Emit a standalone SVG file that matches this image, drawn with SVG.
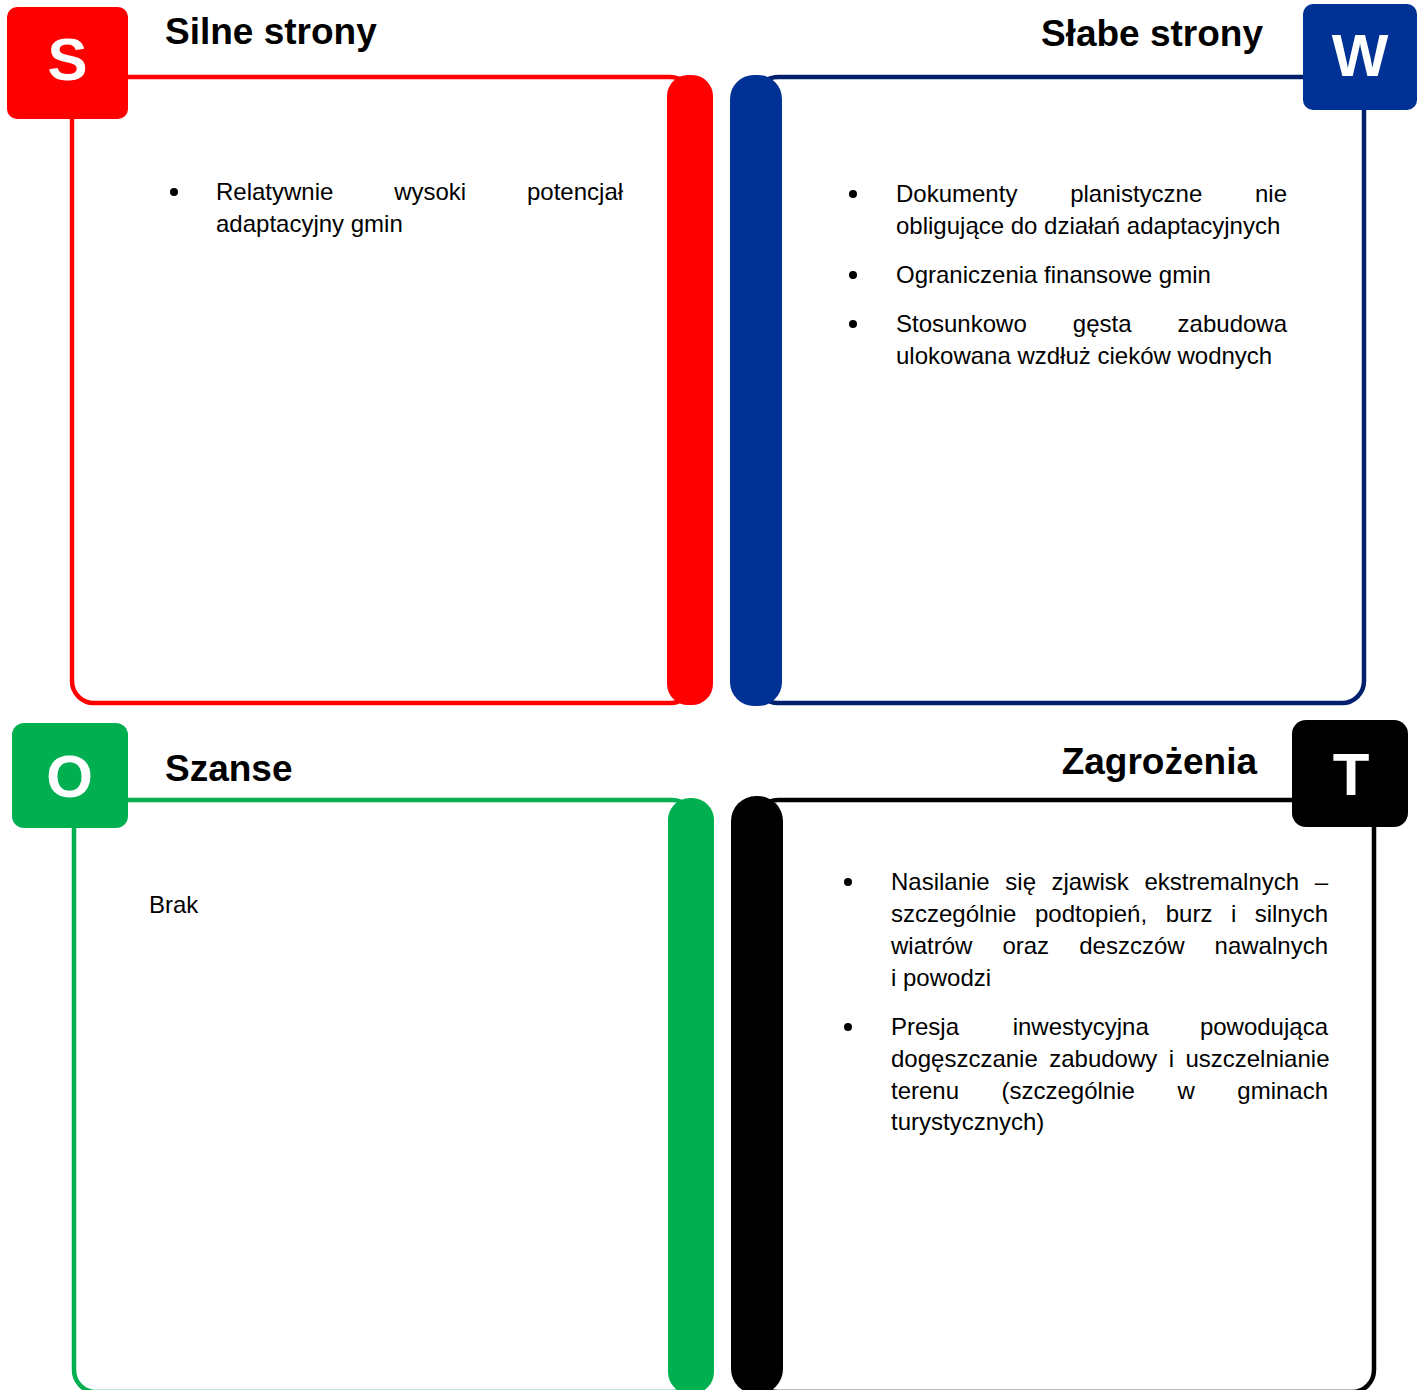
<svg xmlns="http://www.w3.org/2000/svg" width="1426" height="1390" viewBox="0 0 1426 1390">
<style>
.t{font-family:"Liberation Sans",Arial,sans-serif;font-size:24px;fill:#000}
.h{font-family:"Liberation Sans",Arial,sans-serif;font-size:37px;font-weight:bold;fill:#000}
.l{font-family:"Liberation Sans",Arial,sans-serif;font-size:60px;font-weight:bold;fill:#fff;text-anchor:middle}
.o{fill:none;stroke-width:4.5}
</style>
<rect width="1426" height="1390" fill="#fff"/>
<g id="strengths">
<rect class="o" x="72" y="77" width="620" height="626" rx="22" stroke="#FF0000"/>
<rect x="667" y="75" width="46" height="630" rx="21" fill="#FF0000"/>
<rect x="7" y="7" width="121" height="112" rx="10" fill="#FF0000"/>
<text class="l" x="67.5" y="80">S</text>
<text class="h" x="165" y="44">Silne strony</text>
<circle cx="174" cy="192" r="4" fill="#000"/>
<text class="t" y="200"><tspan x="216">Relatywnie</tspan><tspan x="394.2">wysoki</tspan><tspan x="527">potencjał</tspan></text>
<text class="t" x="216" y="232">adaptacyjny gmin</text>
</g>
<g id="weaknesses">
<rect class="o" x="756" y="77" width="608" height="626" rx="22" stroke="#00206E"/>
<rect x="730" y="75" width="52" height="631" rx="24" fill="#003194"/>
<rect x="1303" y="4" width="114" height="106" rx="10" fill="#003194"/>
<text class="l" x="1360" y="76">W</text>
<text class="h" x="1263" y="46" text-anchor="end">Słabe strony</text>
<circle cx="853" cy="194" r="4" fill="#000"/>
<text class="t" y="202"><tspan x="896">Dokumenty</tspan><tspan x="1070.2">planistyczne</tspan><tspan x="1255">nie</tspan></text>
<text class="t" x="896" y="234">obligujące do działań adaptacyjnych</text>
<circle cx="853" cy="275" r="4" fill="#000"/>
<text class="t" x="896" y="283">Ograniczenia finansowe gmin</text>
<circle cx="853" cy="324" r="4" fill="#000"/>
<text class="t" y="332"><tspan x="896">Stosunkowo</tspan><tspan x="1072.8">gęsta</tspan><tspan x="1177.6">zabudowa</tspan></text>
<text class="t" x="896" y="364">ulokowana wzdłuż cieków wodnych</text>
</g>
<g id="opportunities">
<rect class="o" x="74" y="800" width="620" height="592" rx="22" stroke="#00B050"/>
<rect x="668" y="798" width="46" height="596" rx="22" fill="#00B050"/>
<rect x="12" y="723" width="116" height="105" rx="12" fill="#00B050"/>
<text class="l" x="69.5" y="797">O</text>
<text class="h" x="165" y="781">Szanse</text>
<text class="t" x="149" y="913">Brak</text>
</g>
<g id="threats">
<rect class="o" x="756" y="800" width="618" height="592" rx="22" stroke="#000"/>
<rect x="731" y="796" width="52" height="598" rx="25" fill="#000"/>
<rect x="1292" y="720" width="116" height="107" rx="14" fill="#000"/>
<text class="l" x="1351" y="795">T</text>
<text class="h" x="1257" y="774" text-anchor="end">Zagrożenia</text>
<circle cx="848" cy="882" r="4" fill="#000"/>
<text class="t" y="890"><tspan x="891">Nasilanie</tspan><tspan x="1005.3">się</tspan><tspan x="1051.5">zjawisk</tspan><tspan x="1144.4">ekstremalnych</tspan><tspan x="1314.7">–</tspan></text>
<text class="t" y="922"><tspan x="891">szczególnie</tspan><tspan x="1035">podtopień,</tspan><tspan x="1165.7">burz</tspan><tspan x="1230.9">i</tspan><tspan x="1254.7">silnych</tspan></text>
<text class="t" y="954"><tspan x="891">wiatrów</tspan><tspan x="1002.4">oraz</tspan><tspan x="1079.2">deszczów</tspan><tspan x="1214.6">nawalnych</tspan></text>
<text class="t" x="891" y="986">i powodzi</text>
<circle cx="848" cy="1027" r="4" fill="#000"/>
<text class="t" y="1035"><tspan x="891">Presja</tspan><tspan x="1012.7">inwestycyjna</tspan><tspan x="1199.9">powodująca</tspan></text>
<text class="t" y="1067"><tspan x="891">dogęszczanie</tspan><tspan x="1049.2">zabudowy</tspan><tspan x="1168.7">i</tspan><tspan x="1185.4">uszczelnianie</tspan></text>
<text class="t" y="1099"><tspan x="891">terenu</tspan><tspan x="1001.5">(szczególnie</tspan><tspan x="1177.4">w</tspan><tspan x="1237.3">gminach</tspan></text>
<text class="t" x="891" y="1130">turystycznych)</text>
</g>
</svg>
